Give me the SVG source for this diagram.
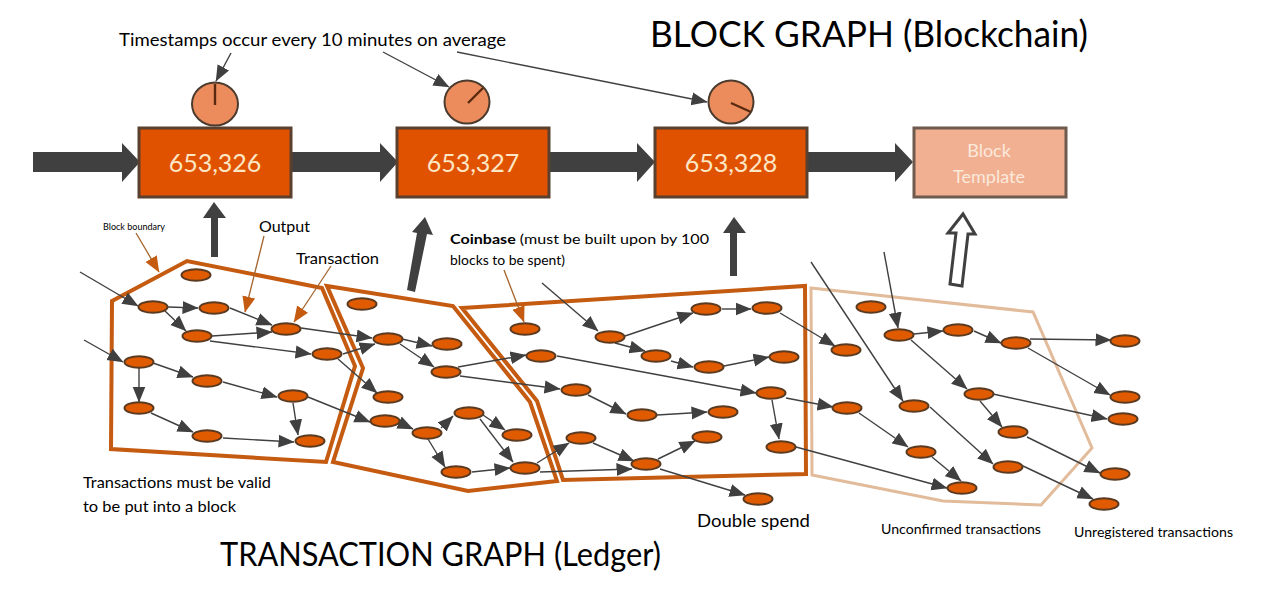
<svg xmlns="http://www.w3.org/2000/svg" width="1280" height="593" viewBox="0 0 1280 593">
<style>
text{font-family:Lato,"Open Sans","Liberation Sans",sans-serif;fill:#000}
.boundary{fill:none;stroke:#c55a11;stroke-width:4;stroke-linejoin:miter}
.pending{fill:none;stroke:#e2bb9b;stroke-width:3;stroke-linejoin:miter}
.edge{stroke:#404040;stroke-width:1.4;fill:none;marker-end:url(#head)}
.note{stroke:#a5652d;stroke-width:1.3;fill:none;marker-end:url(#headOrange)}
.big{fill:#404040}
.tx{fill:#e05a00;stroke:#5a3a20;stroke-width:2}
.block{fill:#e05200;stroke:#59402f;stroke-width:3}
.clock{fill:#ec8c5c;stroke:#4b3a2e;stroke-width:2}
.hand{stroke:#5a2a10;stroke-width:2.4}
.num{font-size:25px;fill:#fde6c4;text-anchor:middle}
.tpl{font-size:18px;fill:#fbe9dc;text-anchor:middle}
</style>
<defs>
<marker id="head" markerUnits="userSpaceOnUse" markerWidth="18" markerHeight="14" refX="15.5" refY="7" orient="auto"><path d="M0,0.5 L16,7 L0,13.5 z" fill="#404040"/></marker>
<marker id="headOrange" markerUnits="userSpaceOnUse" markerWidth="18" markerHeight="14" refX="15.5" refY="7" orient="auto"><path d="M0,0.5 L16,7 L0,13.5 z" fill="#c55a11"/></marker>
</defs>
<rect width="1280" height="593" fill="#fff"/>

<g id="block-boundaries">
<polygon class="boundary" points="112,301 187,261 322,288 355,366 326,462 111,449"/>
<polygon class="boundary" points="327,286 453,306 530,402 557,481 468,491 333,462 363,368"/>
<polygon class="boundary" points="462,308 805,286 806,474 563,480 537,401"/>
<polygon class="pending" points="811,288 1033,312 1092,448 1041,505 943,501 812,475"/>
</g>

<g id="connectors">
<!-- chain arrows between blocks -->
<path class="big" d="M33,152H122V143L140,162L122,182V172H33z"/>
<path class="big" d="M292,152H380V143L398,162L380,182V172H292z"/>
<path class="big" d="M549,152H637V143L655,162L637,182V172H549z"/>
<path class="big" d="M807,152H895V143L913,162L895,182V172H807z"/>
<!-- arrows from transaction sets up to blocks -->
<path class="big" d="M211,257V218H203L214,202L226,218H218V257z"/>
<path class="big" d="M407,290L417,233L412,232L425,217L433,235L427,234L415,292z"/>
<path class="big" d="M730,276V233H723L734,217L746,233H737V276z"/>
<path d="M950,284L956,233H948L963,214L975,234H968L962,286z" fill="#fff" stroke="#404040" stroke-width="3"/>
<!-- timestamp callouts -->
<line class="edge" x1="231" y1="53" x2="216" y2="81"/>
<line class="edge" x1="383" y1="52" x2="449" y2="87"/>
<line class="edge" x1="457" y1="52" x2="707" y2="102"/>
<!-- label callouts -->
<line class="note" x1="136" y1="233" x2="159" y2="272"/>
<line class="note" x1="264" y1="236" x2="245" y2="312"/>
<line class="note" x1="331" y1="266" x2="294" y2="322"/>
<line class="note" x1="504" y1="270" x2="524" y2="322"/>
<!-- spends -->
<line class="edge" x1="80" y1="272" x2="138" y2="306"/>
<line class="edge" x1="168" y1="307" x2="198" y2="308"/>
<line class="edge" x1="165" y1="311" x2="186" y2="331"/>
<line class="edge" x1="230" y1="308" x2="272" y2="325"/>
<line class="edge" x1="212" y1="336" x2="272" y2="332"/>
<line class="edge" x1="210" y1="341" x2="311" y2="354"/>
<line class="edge" x1="301" y1="328" x2="372" y2="338"/>
<line class="edge" x1="343" y1="354" x2="375" y2="344"/>
<line class="edge" x1="338" y1="359" x2="377" y2="393"/>
<line class="edge" x1="84" y1="340" x2="123" y2="362"/>
<line class="edge" x1="153" y1="363" x2="193" y2="377"/>
<line class="edge" x1="223" y1="382" x2="277" y2="397"/>
<line class="edge" x1="139" y1="368" x2="139" y2="402"/>
<line class="edge" x1="151" y1="413" x2="193" y2="432"/>
<line class="edge" x1="223" y1="438" x2="294" y2="442"/>
<line class="edge" x1="293" y1="403" x2="298" y2="435"/>
<line class="edge" x1="308" y1="397" x2="370" y2="422"/>
<line class="edge" x1="402" y1="339" x2="432" y2="346"/>
<line class="edge" x1="400" y1="344" x2="434" y2="367"/>
<line class="edge" x1="458" y1="367" x2="526" y2="355"/>
<line class="edge" x1="460" y1="376" x2="560" y2="389"/>
<line class="edge" x1="400" y1="423" x2="413" y2="429"/>
<line class="edge" x1="441" y1="428" x2="453" y2="416"/>
<line class="edge" x1="428" y1="439" x2="445" y2="467"/>
<line class="edge" x1="483" y1="415" x2="505" y2="430"/>
<line class="edge" x1="480" y1="419" x2="513" y2="462"/>
<line class="edge" x1="472" y1="472" x2="510" y2="468"/>
<line class="edge" x1="537" y1="463" x2="569" y2="443"/>
<line class="edge" x1="540" y1="472" x2="632" y2="469"/>
<line class="edge" x1="542" y1="283" x2="598" y2="331"/>
<line class="edge" x1="625" y1="336" x2="693" y2="313"/>
<line class="edge" x1="722" y1="309" x2="751" y2="309"/>
<line class="edge" x1="615" y1="343" x2="645" y2="351"/>
<line class="edge" x1="671" y1="361" x2="693" y2="367"/>
<line class="edge" x1="724" y1="366" x2="769" y2="357"/>
<line class="edge" x1="780" y1="313" x2="835" y2="346"/>
<line class="edge" x1="557" y1="356" x2="756" y2="393"/>
<line class="edge" x1="786" y1="398" x2="833" y2="407"/>
<line class="edge" x1="772" y1="400" x2="779" y2="439"/>
<line class="edge" x1="588" y1="395" x2="626" y2="414"/>
<line class="edge" x1="657" y1="415" x2="707" y2="412"/>
<line class="edge" x1="593" y1="443" x2="634" y2="461"/>
<line class="edge" x1="658" y1="459" x2="695" y2="441"/>
<line class="edge" x1="660" y1="469" x2="745" y2="495"/>
<line class="edge" x1="796" y1="447" x2="947" y2="488"/>
<line class="edge" x1="859" y1="413" x2="908" y2="447"/>
<line class="edge" x1="932" y1="457" x2="961" y2="481"/>
<line class="edge" x1="884" y1="252" x2="898" y2="328"/>
<line class="edge" x1="811" y1="262" x2="903" y2="401"/>
<line class="edge" x1="914" y1="334" x2="943" y2="331"/>
<line class="edge" x1="974" y1="331" x2="1001" y2="343"/>
<line class="edge" x1="1030" y1="339" x2="1111" y2="340"/>
<line class="edge" x1="1028" y1="348" x2="1110" y2="395"/>
<line class="edge" x1="911" y1="340" x2="967" y2="389"/>
<line class="edge" x1="993" y1="394" x2="1107" y2="419"/>
<line class="edge" x1="980" y1="401" x2="1002" y2="427"/>
<line class="edge" x1="1027" y1="437" x2="1100" y2="473"/>
<line class="edge" x1="930" y1="407" x2="993" y2="464"/>
<line class="edge" x1="1023" y1="466" x2="1093" y2="499"/>
</g>

<g id="clock-1"><ellipse class="clock" cx="215" cy="104" rx="23" ry="21.5"/><line class="hand" x1="215" y1="84" x2="215" y2="105"/></g>
<g id="clock-2"><ellipse class="clock" cx="467" cy="102" rx="22.5" ry="21.5"/><line class="hand" x1="468" y1="103" x2="483" y2="88"/></g>
<g id="clock-3"><ellipse class="clock" cx="731" cy="102" rx="22.5" ry="21.5"/><line class="hand" x1="731" y1="103" x2="751" y2="112"/></g>

<g id="block-653326"><rect class="block" x="139" y="128" width="152" height="69"/><text class="num" x="215" y="172">653,326</text></g>
<g id="block-653327"><rect class="block" x="397" y="128" width="152" height="69"/><text class="num" x="473" y="172">653,327</text></g>
<g id="block-653328"><rect class="block" x="655" y="128" width="152" height="69"/><text class="num" x="731" y="172">653,328</text></g>
<g id="block-template"><rect class="block" style="fill:#f1b092;stroke:#6e5a4e" x="914" y="128" width="152" height="69"/><text class="tpl" x="989" y="157">Block</text><text class="tpl" x="989" y="183">Template</text></g>

<g id="transactions">
<g id="t01"><ellipse class="tx" cx="196" cy="275" rx="14.5" ry="5.8"/></g>
<g id="t02"><ellipse class="tx" cx="153" cy="307" rx="14.5" ry="5.8"/></g>
<g id="t03"><ellipse class="tx" cx="214" cy="308" rx="14.5" ry="5.8"/></g>
<g id="t04"><ellipse class="tx" cx="197" cy="336" rx="14.5" ry="5.8"/></g>
<g id="t05"><ellipse class="tx" cx="286" cy="329" rx="14.5" ry="5.8"/></g>
<g id="t06"><ellipse class="tx" cx="327" cy="354" rx="14.5" ry="5.8"/></g>
<g id="t07"><ellipse class="tx" cx="139" cy="362" rx="14.5" ry="5.8"/></g>
<g id="t08"><ellipse class="tx" cx="207" cy="381" rx="14.5" ry="5.8"/></g>
<g id="t09"><ellipse class="tx" cx="293" cy="396" rx="14.5" ry="5.8"/></g>
<g id="t10"><ellipse class="tx" cx="139" cy="408" rx="14.5" ry="5.8"/></g>
<g id="t11"><ellipse class="tx" cx="207" cy="436" rx="14.5" ry="5.8"/></g>
<g id="t12"><ellipse class="tx" cx="310" cy="441" rx="14.5" ry="5.8"/></g>
<g id="t13"><ellipse class="tx" cx="362" cy="304" rx="14.5" ry="5.8"/></g>
<g id="t14"><ellipse class="tx" cx="388" cy="339" rx="14.5" ry="5.8"/></g>
<g id="t15"><ellipse class="tx" cx="447" cy="344" rx="14.5" ry="5.8"/></g>
<g id="t16"><ellipse class="tx" cx="446" cy="372" rx="14.5" ry="5.8"/></g>
<g id="t17"><ellipse class="tx" cx="388" cy="397" rx="14.5" ry="5.8"/></g>
<g id="t18"><ellipse class="tx" cx="385" cy="421" rx="14.5" ry="5.8"/></g>
<g id="t19"><ellipse class="tx" cx="427" cy="433" rx="14.5" ry="5.8"/></g>
<g id="t20"><ellipse class="tx" cx="469" cy="413" rx="14.5" ry="5.8"/></g>
<g id="t21"><ellipse class="tx" cx="517" cy="435" rx="14.5" ry="5.8"/></g>
<g id="t22"><ellipse class="tx" cx="456" cy="472" rx="14.5" ry="5.8"/></g>
<g id="t23"><ellipse class="tx" cx="525" cy="468" rx="14.5" ry="5.8"/></g>
<g id="t24"><ellipse class="tx" cx="525" cy="329" rx="14.5" ry="5.8"/></g>
<g id="t25"><ellipse class="tx" cx="541" cy="356" rx="14.5" ry="5.8"/></g>
<g id="t26"><ellipse class="tx" cx="576" cy="390" rx="14.5" ry="5.8"/></g>
<g id="t27"><ellipse class="tx" cx="581" cy="438" rx="14.5" ry="5.8"/></g>
<g id="t28"><ellipse class="tx" cx="610" cy="337" rx="14.5" ry="5.8"/></g>
<g id="t29"><ellipse class="tx" cx="706" cy="309" rx="14.5" ry="5.8"/></g>
<g id="t30"><ellipse class="tx" cx="767" cy="308" rx="14.5" ry="5.8"/></g>
<g id="t31"><ellipse class="tx" cx="656" cy="356" rx="14.5" ry="5.8"/></g>
<g id="t32"><ellipse class="tx" cx="709" cy="367" rx="14.5" ry="5.8"/></g>
<g id="t33"><ellipse class="tx" cx="784" cy="357" rx="14.5" ry="5.8"/></g>
<g id="t34"><ellipse class="tx" cx="642" cy="415" rx="14.5" ry="5.8"/></g>
<g id="t35"><ellipse class="tx" cx="723" cy="412" rx="14.5" ry="5.8"/></g>
<g id="t36"><ellipse class="tx" cx="771" cy="393" rx="14.5" ry="5.8"/></g>
<g id="t37"><ellipse class="tx" cx="781" cy="447" rx="14.5" ry="5.8"/></g>
<g id="t38"><ellipse class="tx" cx="707" cy="437" rx="14.5" ry="5.8"/></g>
<g id="t39"><ellipse class="tx" cx="646" cy="464" rx="14.5" ry="5.8"/></g>
<g id="t40"><ellipse class="tx" cx="758" cy="499" rx="14.5" ry="5.8"/></g>
<g id="t41"><ellipse class="tx" cx="846" cy="350" rx="14.5" ry="5.8"/></g>
<g id="t42"><ellipse class="tx" cx="847" cy="408" rx="14.5" ry="5.8"/></g>
<g id="t43"><ellipse class="tx" cx="871" cy="307" rx="14.5" ry="5.8"/></g>
<g id="t44"><ellipse class="tx" cx="899" cy="335" rx="14.5" ry="5.8"/></g>
<g id="t45"><ellipse class="tx" cx="958" cy="330" rx="14.5" ry="5.8"/></g>
<g id="t46"><ellipse class="tx" cx="1016" cy="343" rx="14.5" ry="5.8"/></g>
<g id="t47"><ellipse class="tx" cx="1125" cy="341" rx="14.5" ry="5.8"/></g>
<g id="t48"><ellipse class="tx" cx="1125" cy="397" rx="14.5" ry="5.8"/></g>
<g id="t49"><ellipse class="tx" cx="1123" cy="419" rx="14.5" ry="5.8"/></g>
<g id="t50"><ellipse class="tx" cx="979" cy="394" rx="14.5" ry="5.8"/></g>
<g id="t51"><ellipse class="tx" cx="914" cy="406" rx="14.5" ry="5.8"/></g>
<g id="t52"><ellipse class="tx" cx="1013" cy="432" rx="14.5" ry="5.8"/></g>
<g id="t53"><ellipse class="tx" cx="921" cy="452" rx="14.5" ry="5.8"/></g>
<g id="t54"><ellipse class="tx" cx="1008" cy="467" rx="14.5" ry="5.8"/></g>
<g id="t55"><ellipse class="tx" cx="1115" cy="474" rx="14.5" ry="5.8"/></g>
<g id="t56"><ellipse class="tx" cx="1104" cy="504" rx="14.5" ry="5.8"/></g>
<g id="t57"><ellipse class="tx" cx="962" cy="488" rx="14.5" ry="5.8"/></g>
</g>

<g id="labels">
<text x="650" y="47" font-size="37" textLength="438" lengthAdjust="spacingAndGlyphs">BLOCK GRAPH (Blockchain)</text>
<text x="119" y="46" font-size="18" textLength="387" lengthAdjust="spacingAndGlyphs">Timestamps occur every 10 minutes on average</text>
<text x="103" y="230" font-size="9" textLength="62" lengthAdjust="spacingAndGlyphs">Block boundary</text>
<text x="259" y="232" font-size="16" textLength="51" lengthAdjust="spacingAndGlyphs">Output</text>
<text x="296" y="264" font-size="16" textLength="83" lengthAdjust="spacingAndGlyphs">Transaction</text>
<text x="450" y="244" font-size="13" textLength="259" lengthAdjust="spacingAndGlyphs"><tspan font-weight="700">Coinbase</tspan> (must be built upon by 100</text>
<text x="450" y="265" font-size="13" textLength="115" lengthAdjust="spacingAndGlyphs">blocks to be spent)</text>
<text x="83" y="488" font-size="16" textLength="188" lengthAdjust="spacingAndGlyphs">Transactions must be valid</text>
<text x="83" y="512" font-size="16" textLength="153" lengthAdjust="spacingAndGlyphs">to be put into a block</text>
<text x="697" y="527" font-size="18" textLength="113" lengthAdjust="spacingAndGlyphs">Double spend</text>
<text x="881" y="534" font-size="13" textLength="160" lengthAdjust="spacingAndGlyphs">Unconfirmed transactions</text>
<text x="1074" y="537" font-size="13" textLength="159" lengthAdjust="spacingAndGlyphs">Unregistered transactions</text>
<text x="220" y="566" font-size="33" textLength="441" lengthAdjust="spacingAndGlyphs">TRANSACTION GRAPH (Ledger)</text>
</g>
</svg>
